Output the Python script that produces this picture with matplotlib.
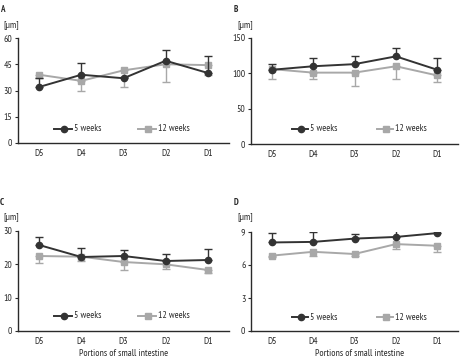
import matplotlib
matplotlib.use("Agg")
import matplotlib.pyplot as plt
from matplotlib.lines import Line2D
import numpy as np

plt.rcParams['font.family'] = ['PT Sans Narrow', 'Roboto Condensed', 'DejaVu Sans']

categories = ["D5", "D4", "D3", "D2", "D1"]
series_names = ["5 weeks", "12 weeks"]
xlabel_text = "Portions of small intestine"
unit_text = "[μm]"

# Panel A
a_5w = [32, 39, 37, 47, 40]
a_5w_err = [5, 7, 1, 6, 10]
a_12w = [39, 35.5, 41.5, 45, 44.5]
a_12w_err = [2, 6, 9.5, 10, 5.5]
a_ticks = [0, 15, 30, 45, 60]

# Panel B
b_5w = [105, 110, 113, 124, 105]
b_5w_err = [8, 11, 11, 12, 16]
b_12w = [106, 101, 101, 110, 97]
b_12w_err = [14, 9, 19, 18, 9]
b_ticks = [0, 50, 100, 150]

# Panel C
c_5w = [25.8, 22.2, 22.5, 21.0, 21.3]
c_5w_err = [2.5, 2.8, 1.7, 2.0, 3.2]
c_12w = [22.5, 22.3, 20.7, 20.0, 18.3]
c_12w_err = [2.2, 1.3, 2.4, 1.3, 0.8]
c_ticks = [0, 10, 20, 30]

# Panel D
d_5w = [8.05, 8.1, 8.4, 8.55, 8.9]
d_5w_err = [0.85, 0.9, 0.4, 0.7, 0.5]
d_12w = [6.85, 7.2, 7.0, 7.9, 7.75]
d_12w_err = [0.15, 0.35, 0.2, 0.45, 0.55]
d_ticks = [0, 3, 6, 9]

dark = "#333333"
grey = "#a8a8a8"
txt = "#2a2a2a"
fs = 7

W, H = 461, 361
fig = plt.figure(figsize=(W / 100, H / 100), dpi=100)


def fx(px):
    return px / W


def fy(py):
    return 1 - py / H


def add_ax(l, t, r, b):
    return fig.add_axes([fx(l), fy(b), (r - l) / W, (b - t) / H])


panels = [
    ("A", add_ax(18, 38, 229, 143), a_5w, a_5w_err, a_12w, a_12w_err, a_ticks,
     (0, 9), (3, 25), 129, (54, 72, 74, 138, 156, 158), None),
    ("B", add_ax(251, 38, 458, 144), b_5w, b_5w_err, b_12w, b_12w_err, b_ticks,
     (234, 9), (237, 25), 129, (292, 308, 310, 377, 393, 395), None),
    ("C", add_ax(18, 231, 229, 331), c_5w, c_5w_err, c_12w, c_12w_err, c_ticks,
     (0, 203), (3, 217), 316, (54, 72, 74, 138, 156, 158), (124, 354)),
    ("D", add_ax(251, 232, 458, 331), d_5w, d_5w_err, d_12w, d_12w_err, d_ticks,
     (234, 203), (237, 217), 317, (292, 308, 310, 377, 393, 395), (360, 354)),
]

x = np.arange(len(categories))
for (label, ax, v5, e5, v12, e12, ticks, lpos, upos, ly, lx, xlpos) in panels:
    z = np.zeros(len(x))
    ax.errorbar(x, v12, yerr=[e12, z], color=grey, ecolor=grey, elinewidth=1.0,
                capsize=3, capthick=1.0, marker='s', markersize=5, lw=1.4, zorder=2)
    ax.errorbar(x, v5, yerr=[z, e5], color=dark, ecolor=dark, elinewidth=1.0,
                capsize=3, capthick=1.0, marker='o', markersize=4.5, lw=1.4, zorder=3)
    ax.set_xlim(-0.5, 4.5)
    ax.set_ylim(0, ticks[-1])
    ax.set_yticks(ticks)
    ax.set_xticks(x)
    ax.set_xticklabels(categories)
    ax.spines['top'].set_visible(False)
    ax.spines['right'].set_visible(False)
    for s in ['left', 'bottom']:
        ax.spines[s].set_linewidth(1.0)
        ax.spines[s].set_color(txt)
    ax.tick_params(axis='y', length=2.5, width=0.8, labelsize=fs, pad=1.5, colors=txt)
    ax.tick_params(axis='x', length=0, labelsize=fs, pad=4.5, colors=txt)

    fig.text(fx(lpos[0]), fy(lpos[1]), label, fontsize=fs - 0.5, fontweight='bold',
             ha='left', va='center', color=txt)
    fig.text(fx(upos[0]), fy(upos[1]), unit_text, fontsize=fs, ha='left', va='center',
             color=txt)

    for (x0, x1, xt, col, mk, ms, name) in [
        (lx[0], lx[1], lx[2], dark, 'o', 4.5, series_names[0]),
        (lx[3], lx[4], lx[5], grey, 's', 5, series_names[1]),
    ]:
        fig.add_artist(Line2D([fx(x0), fx(x1)], [fy(ly), fy(ly)], color=col, lw=1.4,
                              transform=fig.transFigure))
        fig.add_artist(Line2D([fx((x0 + x1) / 2 + 1)], [fy(ly)], color=col, marker=mk,
                              markersize=ms, lw=0, transform=fig.transFigure))
        fig.text(fx(xt), fy(ly), name, fontsize=fs, ha='left', va='center', color=txt)

    if xlpos is not None:
        fig.text(fx(xlpos[0]), fy(xlpos[1]), xlabel_text, fontsize=fs, ha='center',
                 va='center', color=txt)

fig.savefig("out.png", dpi=100)
